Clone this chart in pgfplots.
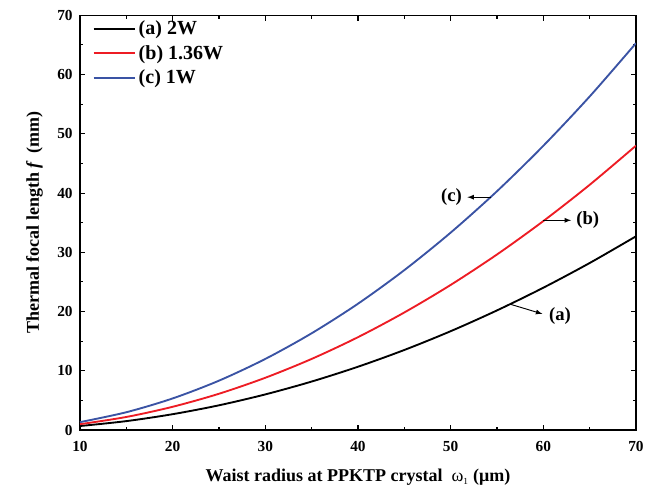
\documentclass[border=0pt]{standalone}
\usepackage{fontspec}
\setmainfont{Liberation Serif}
\usepackage{pgfplots}
\pgfplotsset{compat=1.18}

\definecolor{cred}{HTML}{ED1C24}
\definecolor{cblue}{HTML}{3A53A4}

\begin{document}
\begin{tikzpicture}
\begin{axis}[
    scale only axis,
    width=417pt, height=311pt,
    xmin=10, xmax=70, ymin=0, ymax=70,
    xtick={10,20,...,70}, ytick={0,10,...,70},
    minor x tick num=1, minor y tick num=1,
    tick align=inside,
    major tick length=4pt, minor tick length=2.5pt,
    axis line style={line width=0.9pt},
    every tick/.style={black, line width=0.8pt},
    /pgf/number format/assume math mode=true,
    tick label style={font=\bfseries\fontsize{11.5}{13}\selectfont},
    xticklabel style={yshift=-5pt},
    yticklabel style={xshift=-2pt},
    label style={font=\bfseries\fontsize{13.5}{15}\selectfont},
    xlabel={Waist radius at PPKTP crystal\ \ {\mdseries ω}\textsubscript{\mdseries\fontsize{7}{8}\selectfont 1} (μm)},
    ylabel={Thermal focal length \textit{f}\, (mm)},
    xlabel style={yshift=-6pt},
    ylabel style={yshift=4pt},
    legend style={draw=none, fill=none, at={(0.02,1.0)}, anchor=north west,
        yshift=-1pt,
        font=\bfseries\fontsize{15}{17}\selectfont, row sep=2.5pt, inner sep=1pt},
    legend cell align=left,
    legend image code/.code={\draw[#1, line width=1.5pt] (0pt,0pt) -- (31pt,0pt);},
]
\addplot[black, line width=1.4pt, smooth] coordinates {
(10,0.67) (15,1.50) (20,2.67) (25,4.17) (30,6.01) (35,8.18) (40,10.68)
(45,13.51) (50,16.68) (55,20.19) (60,24.02) (65,28.19) (70,32.7)};
\addplot[cred, line width=1.4pt, smooth] coordinates {
(10,0.98) (15,2.20) (20,3.92) (25,6.12) (30,8.82) (35,12.0) (40,15.67)
(45,19.84) (50,24.49) (55,29.63) (60,35.27) (65,41.39) (70,48.0)};
\addplot[cblue, line width=1.4pt, smooth] coordinates {
(10,1.33) (15,3.00) (20,5.33) (25,8.33) (30,12.0) (35,16.33) (40,21.32)
(45,26.99) (50,33.32) (55,40.31) (60,47.98) (65,56.30) (70,65.3)};
\legend{(a) 2W, (b) 1.36W, (c) 1W}

\draw[-latex, line width=0.7pt] (axis cs:54.3,39.3) -- (axis cs:51.8,39.3);
\node[font=\bfseries\fontsize{14}{16}\selectfont] at (axis cs:50.1,39.3) {(c)};
\draw[-latex, line width=0.7pt] (axis cs:60.0,35.4) -- (axis cs:63.0,35.4);
\node[font=\bfseries\fontsize{14}{16}\selectfont] at (axis cs:64.8,35.4) {(b)};
\draw[-latex, line width=0.7pt] (axis cs:56.5,21.2) -- (axis cs:59.9,19.6);
\node[font=\bfseries\fontsize{14}{16}\selectfont] at (axis cs:61.8,19.3) {(a)};
\end{axis}
\path (-60pt,-41.25pt) rectangle (427.5pt,322.5pt);
\end{tikzpicture}
\end{document}
